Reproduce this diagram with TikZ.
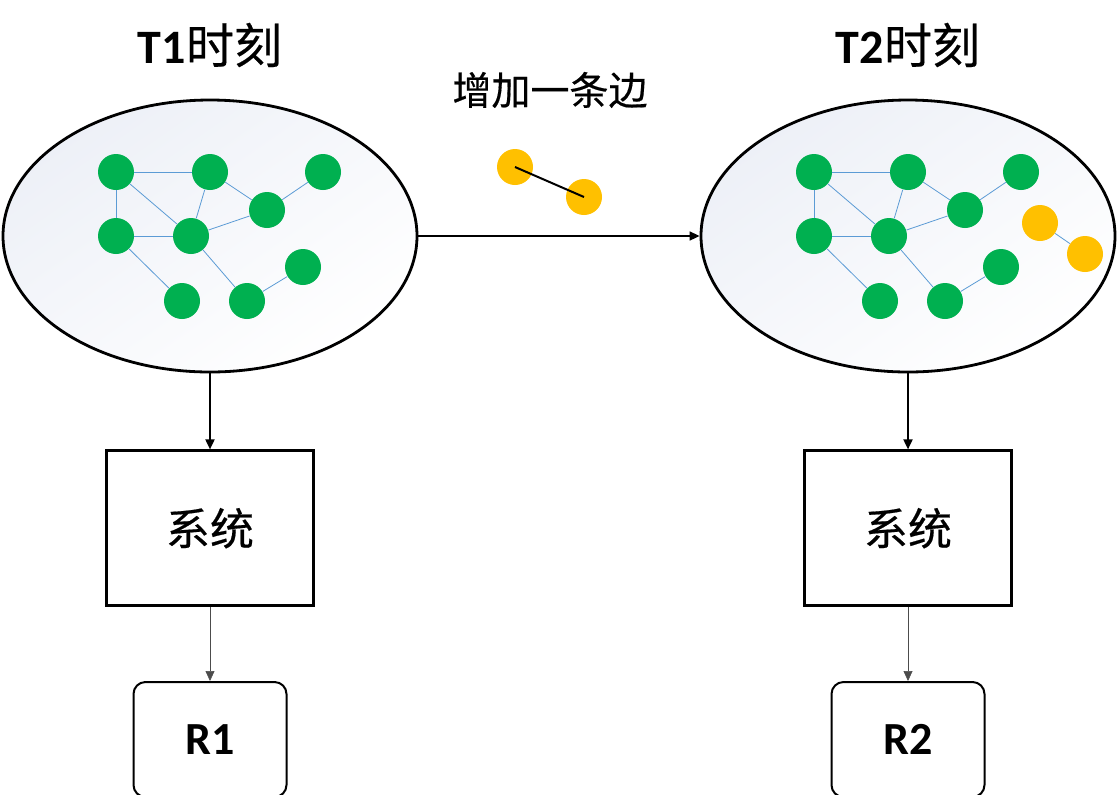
\documentclass[tikz,border=0pt]{standalone}
\usepackage{fontspec}
\setmainfont{Carlito}
\newfontfamily\cjk{Noto Sans CJK SC}[FakeBold=0.4]
\usetikzlibrary{arrows.meta, positioning, shapes.geometric}
\definecolor{nodegreen}{HTML}{00B050}
\definecolor{nodeorange}{HTML}{FFC000}
\definecolor{edgeblue}{HTML}{5B9BD5}
\definecolor{setfill}{HTML}{EDF0F7}

\begin{document}
\begin{tikzpicture}[
    x=0.5pt, y=-0.5pt,
    vertex/.style={circle, fill=nodegreen, minimum size=18pt, inner sep=0pt},
    newvertex/.style={vertex, fill=nodeorange},
    link/.style={edgeblue, line width=0.4pt},
    graphset/.style={ellipse, draw, line width=1.4pt, minimum width=207pt, minimum height=136pt, inner sep=0pt,
      top color=setfill, bottom color=white, shading angle=35},
    sysbox/.style={draw, line width=1.3pt, minimum width=103.5pt, minimum height=77.5pt,
      font=\cjk\fontsize{22}{22}\selectfont},
    result/.style={draw, rounded corners=6pt, line width=1pt, minimum width=76.5pt, minimum height=57.5pt,
      font=\bfseries\fontsize{23}{23}\selectfont},
    title/.style={font=\fontsize{24}{24}\selectfont},
    >={Triangle[length=5pt,width=4.5pt]}
  ]
  \useasboundingbox (0,0) rectangle (1118,794);

  % Conjuntos
  \node[graphset] (set1) at (210,236) {};
  \node[graphset] (set2) at (908,236) {};

  \node[title] (t1) at (210,45) {\textbf{T1}\cjk 时刻};
  \node[title] (t2) at (908,45) {\textbf{T2}\cjk 时刻};

  % Grafos
  \foreach \k/\s in {1/0, 2/698} {
    \begin{scope}[xshift=\s*0.5pt]
      \node[vertex] (a\k) at (116,172) {};
      \node[vertex] (b\k) at (210,172) {};
      \node[vertex] (c\k) at (323,172) {};
      \node[vertex] (d\k) at (267,210) {};
      \node[vertex] (e\k) at (116,236) {};
      \node[vertex] (f\k) at (191,236) {};
      \node[vertex] (g\k) at (303,267) {};
      \node[vertex] (h\k) at (182,301) {};
      \node[vertex] (i\k) at (247,301) {};
    \end{scope}
    \foreach \u/\v in {a/b, a/e, a/f, b/f, b/d, d/c, e/f, f/d, e/h, f/i, i/g}
      \draw[link] (\u\k) -- (\v\k);
  }

  \node[newvertex] (p2) at (1040,223) {};
  \node[newvertex] (q2) at (1085,254) {};
  \draw[link] (p2) -- (q2);

  % Nueva arista
  \node[font=\cjk\fontsize{19.5}{19.5}\selectfont] (added) at (550,90) {增加一条边};
  \node[newvertex] (p) at (515,167) {};
  \node[newvertex] (q) at (584,197) {};
  \draw[line width=1pt] (p.center) -- (q.center);

  \draw[->, line width=0.8pt] (set1) -- (set2);

  % Sistemas
  \node[sysbox, below=38pt of set1] (sys1) {系统};
  \node[sysbox, below=38pt of set2] (sys2) {系统};
  \node[result, below=37pt of sys1] (r1) {R1};
  \node[result, below=37pt of sys2] (r2) {R2};

  \draw[->, line width=0.9pt] (set1) -- (sys1);
  \draw[->, line width=0.9pt] (set2) -- (sys2);
  \draw[->, draw=black!70, line width=0.3pt] (sys1) -- (r1);
  \draw[->, draw=black!70, line width=0.3pt] (sys2) -- (r2);

\end{tikzpicture}
\end{document}
